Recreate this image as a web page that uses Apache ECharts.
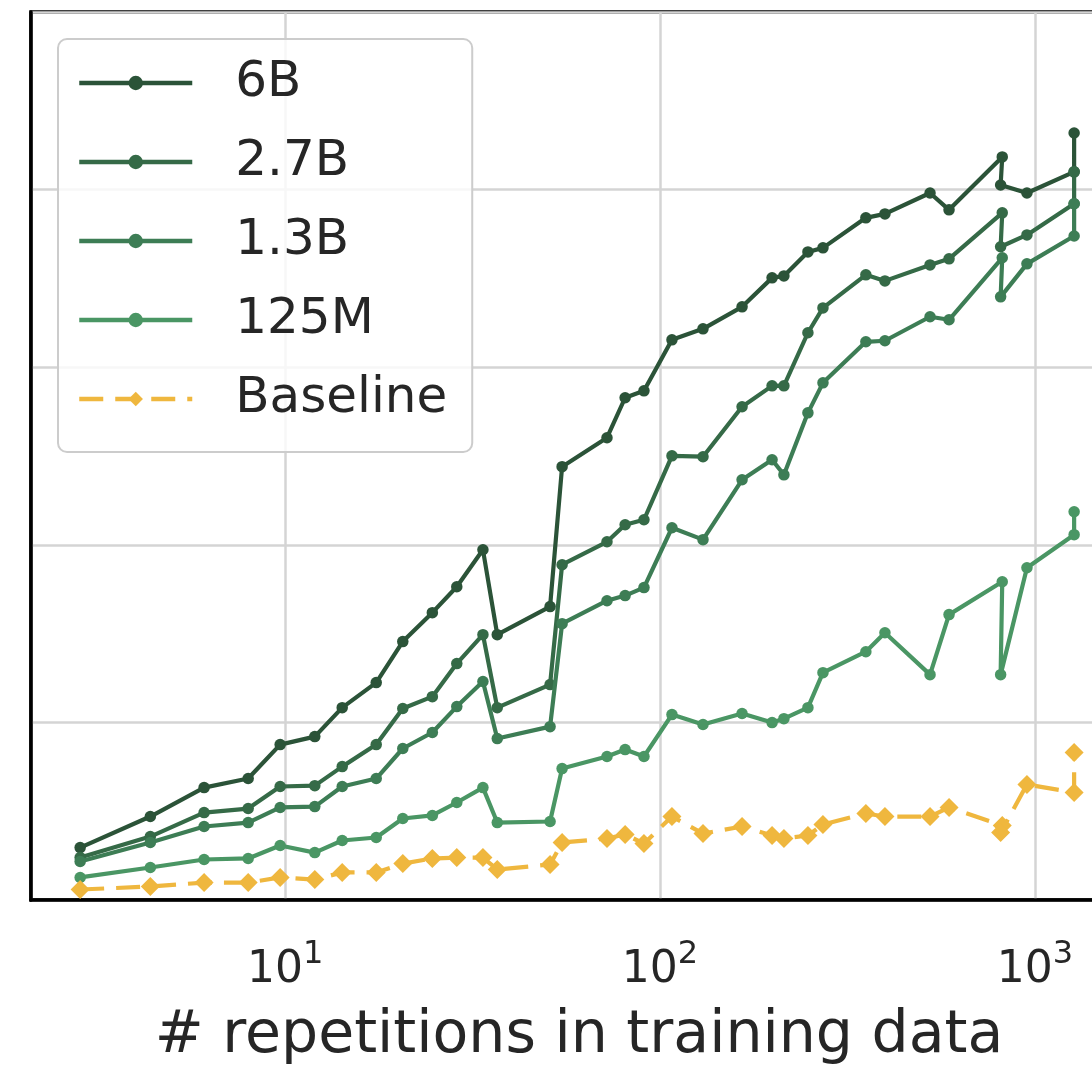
<!DOCTYPE html>
<html>
<head>
<meta charset="utf-8">
<script src="https://cdn.jsdelivr.net/npm/echarts@6/dist/echarts.min.js"></script>
<style>html,body{margin:0;padding:0;background:#fff}#chart{width:1092px;height:1067px}</style>
</head>
<body>
<div id="chart"></div>
<script>
// x values: number of repetitions in training data (log scale)
const repetitions = [2.84, 4.37, 6.08, 7.97, 9.70, 12.0, 14.2, 17.5, 20.6, 24.7, 28.7, 33.7, 36.8, 50.9, 54.8, 72.2, 80.7, 90.6, 107.6, 130.2, 165.5, 199, 214, 248, 272, 354, 398, 525, 590, 818, 810, 952, 1272, 1272];
const names = ['6B', '2.7B', '1.3B', '125M', 'Baseline'];
const acc6B = [2.95, 4.70, 6.33, 6.84, 8.75, 9.20, 10.83, 12.24, 14.55, 16.18, 17.64, 19.72, 14.94, 16.52, 24.40, 26.03, 28.28, 28.67, 31.54, 32.16, 33.40, 35.03, 35.14, 36.49, 36.72, 38.41, 38.63, 39.81, 38.86, 41.84, 40.26, 39.81, 41.00, 43.19];
const acc2_7B = [2.39, 3.57, 4.92, 5.15, 6.39, 6.44, 7.51, 8.75, 10.78, 11.45, 13.31, 14.94, 10.83, 12.13, 18.88, 20.17, 21.13, 21.41, 25.01, 24.96, 27.77, 28.95, 28.95, 31.94, 33.34, 35.20, 34.86, 35.76, 36.10, 38.69, 36.78, 37.45, 39.20, 41.00];
const acc1_3B = [2.17, 3.24, 4.14, 4.36, 5.21, 5.26, 6.39, 6.84, 8.53, 9.43, 10.89, 12.30, 9.09, 9.76, 15.56, 16.85, 17.14, 17.59, 20.96, 20.29, 23.66, 24.79, 23.94, 27.43, 29.12, 31.43, 31.49, 32.84, 32.67, 36.16, 33.96, 35.82, 37.39, 39.20];
const acc125M = [1.27, 1.83, 2.28, 2.34, 3.07, 2.67, 3.35, 3.52, 4.59, 4.76, 5.49, 6.33, 4.36, 4.42, 7.40, 8.08, 8.47, 8.08, 10.44, 9.88, 10.50, 9.99, 10.21, 10.83, 12.80, 13.98, 15.05, 12.69, 16.07, 17.92, 12.69, 18.71, 20.57, 21.86];
const accBaseline = [0.59, 0.76, 0.98, 0.98, 1.27, 1.15, 1.55, 1.55, 2.05, 2.34, 2.39, 2.39, 1.72, 2.00, 3.24, 3.46, 3.69, 3.18, 4.70, 3.74, 4.14, 3.63, 3.46, 3.63, 4.25, 4.87, 4.70, 4.70, 5.21, 4.19, 3.80, 6.50, 6.05, 8.30];
const xLabel = '# repetitions in training data';

const FONT = 'DejaVu Sans';
const TXT = '#262626';
const colors = ['#2b5338', '#356a47', '#3d7d55', '#4a9664', '#efb73e'];
const seriesValues = [acc6B, acc2_7B, acc1_3B, acc125M, accBaseline];

function pairs(ys) { return repetitions.map((x, i) => [x, ys[i]]); }

const series = names.map((n, k) => {
  const isBase = k === 4;
  return {
    name: n,
    type: 'line',
    data: pairs(seriesValues[k]),
    symbol: isBase ? 'diamond' : 'circle',
    symbolSize: isBase ? [19, 19] : 11.5,
    showSymbol: true,
    color: colors[k],
    lineStyle: { width: 4.2, color: colors[k], type: isBase ? [24, 12] : 'solid', cap: 'butt' },
    itemStyle: { color: colors[k] },
    z: 3 + k,
    animation: false
  };
});

const chart = echarts.init(document.getElementById('chart'), null, { renderer: 'canvas' });
chart.setOption({
  animation: false,
  backgroundColor: '#fff',
  grid: { left: 31, top: 12, bottom: 167, right: -35, show: true, borderColor: '#000', borderWidth: 3.5, backgroundColor: '#fff', containLabel: false, outerBoundsMode: 'none' },
  legend: {
    data: names,
    orient: 'vertical',
    left: 58, top: 39,
    padding: [14, 25, 23, 19],
    itemWidth: 113, itemHeight: 18, itemGap: 19,
    backgroundColor: 'rgba(255,255,255,0.8)',
    borderColor: '#cccccc', borderWidth: 2, borderRadius: 9,
    lineStyle: { width: 4.5 },
    textStyle: { fontFamily: FONT, fontSize: 50, color: TXT, lineHeight: 60, padding: [0, 0, 0, 38] },
    z: 10
  },
  xAxis: {
    type: 'log', logBase: 10, min: 2.1, max: 1760,
    name: xLabel, nameLocation: 'middle', nameGap: 107,
    nameTextStyle: { fontFamily: FONT, fontSize: 58.5, color: TXT },
    axisLine: { show: true, lineStyle: { color: '#000', width: 3.5 } },
    axisTick: { show: false },
    minorTick: { show: false },
    splitLine: { show: true, lineStyle: { color: '#d4d4d4', width: 2.5 } },
    axisLabel: {
      margin: 39,
      showMinLabel: true, showMaxLabel: true,
      formatter: function (v) {
        const l = Math.log10(v), e = Math.round(l);
        if (Math.abs(l - e) > 1e-6) return '';
        return '{b|10}{s|' + e + '}';
      },
      rich: {
        b: { fontFamily: FONT, fontSize: 44, color: TXT },
        s: { fontFamily: FONT, fontSize: 32, color: TXT, padding: [0, 0, 32, 0] }
      }
    }
  },
  yAxis: {
    type: 'value', min: 0, max: 50, interval: 10,
    axisLabel: { show: false },
    axisTick: { show: false },
    axisLine: { show: true, lineStyle: { color: '#000', width: 3.5 } },
    splitLine: { show: true, lineStyle: { color: '#d4d4d4', width: 2.5 } }
  },
  series: series
});
</script>
</body>
</html>
